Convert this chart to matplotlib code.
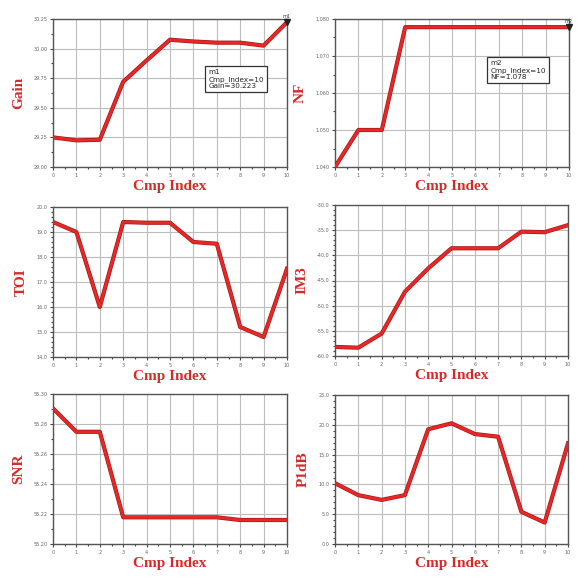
import matplotlib
matplotlib.use("Agg")
import matplotlib.pyplot as plt
from matplotlib.ticker import MultipleLocator, AutoMinorLocator

cmp_index = [0, 1, 2, 3, 4, 5, 6, 7, 8, 9, 10]
gain = [29.25, 29.225, 29.23, 29.72, 29.90, 30.075, 30.06, 30.05, 30.05, 30.025, 30.223]
nf = [1.040, 1.050, 1.050, 1.0778, 1.0778, 1.0778, 1.0778, 1.0778, 1.0778, 1.0778, 1.0778]
toi = [19.4, 19.0, 16.0, 19.4, 19.37, 19.37, 18.6, 18.53, 15.2, 14.8, 17.53]
im3 = [-58.2, -58.35, -55.55, -47.25, -42.6, -38.6, -38.6, -38.6, -35.3, -35.4, -34.0]
snr = [55.2904, 55.2748, 55.2748, 55.2178, 55.2178, 55.2178, 55.2178, 55.2178, 55.216, 55.216, 55.216]
p1db = [10.2, 8.2, 7.4, 8.2, 19.25, 20.25, 18.45, 18.0, 5.4, 3.6, 16.9]

panels = [
    ("Gain", gain, (29.0, 30.25), 0.25, "{:.2f}"),
    ("NF", nf, (1.04, 1.08), 0.01, "{:.3f}"),
    ("TOI", toi, (14.0, 20.0), 1.0, "{:.1f}"),
    ("IM3", im3, (-60.0, -30.0), 5.0, "{:.1f}"),
    ("SNR", snr, (55.20, 55.30), 0.02, "{:.2f}"),
    ("P1dB", p1db, (0.0, 25.0), 5.0, "{:.1f}"),
]

W = H = 578
boxes = [
    (53, 19, 287, 167), (335, 19, 569, 167),
    (53, 207, 287, 357), (335, 205, 568, 356),
    (53, 394, 287, 544), (335, 395, 568, 544),
]

red = "#d42a2a"
fig = plt.figure(figsize=(5.78, 5.78), dpi=100)

for i, ((name, vals, ylim, step, fmt), (l, t, r, b)) in enumerate(zip(panels, boxes)):
    ax = fig.add_axes([l / W, 1 - b / H, (r - l) / W, (b - t) / H])
    ax.plot(cmp_index, vals, color="#a51818", lw=3.0, solid_joinstyle="round", zorder=3)
    ax.plot(cmp_index, vals, color="#e82828", lw=2.0, solid_joinstyle="round", zorder=4)
    ax.set_xlim(0, 10)
    ax.set_ylim(*ylim)
    ax.xaxis.set_major_locator(MultipleLocator(1))
    ax.xaxis.set_minor_locator(AutoMinorLocator(2))
    ax.yaxis.set_major_locator(MultipleLocator(step))
    ax.yaxis.set_minor_locator(AutoMinorLocator(2 if i < 2 or i == 4 else 5))
    ax.set_yticklabels([fmt.format(v) for v in ax.get_yticks()])
    ax.grid(True, which="major", color="#bdbdbd", lw=0.8)
    ax.tick_params(axis="both", which="both", labelsize=3.5, labelcolor="#666666",
                   direction="out", length=2.5, width=0.8, color="#444444", pad=1.5)
    ax.tick_params(which="minor", length=1.5)
    for s in ax.spines.values():
        s.set_color("#555555")
        s.set_linewidth(1.0)
    ax.set_xlabel("Cmp Index", family="Liberation Serif", fontsize=11, fontweight="bold",
                  color=red, labelpad=2)
    ax.set_ylabel(name, family="Liberation Serif", fontsize=11, fontweight="bold",
                  color=red, labelpad=6)
    if i < 2:
        tag = "m1" if i == 0 else "m2"
        ax.plot([cmp_index[-1]], [vals[-1]], marker="v", color="#222222", ms=4,
                zorder=5, clip_on=False)
        ax.annotate(tag, (cmp_index[-1], vals[-1]), xytext=(-3, 3),
                    textcoords="offset points", fontsize=3.5, color="#333333")
        txt = f"{tag}\nCmp_Index={cmp_index[-1]}\n{name}={vals[-1]:.3f}"
        bx = 0.665 if i == 0 else 0.665
        by = 0.66 if i == 0 else 0.72
        ax.text(bx, by, txt, transform=ax.transAxes, fontsize=5.2, va="top", ha="left",
                color="#222222", linespacing=1.1,
                bbox=dict(boxstyle="square,pad=0.45", fc="white", ec="#333333", lw=0.9),
                zorder=6)

fig.savefig("out.png", dpi=100)
